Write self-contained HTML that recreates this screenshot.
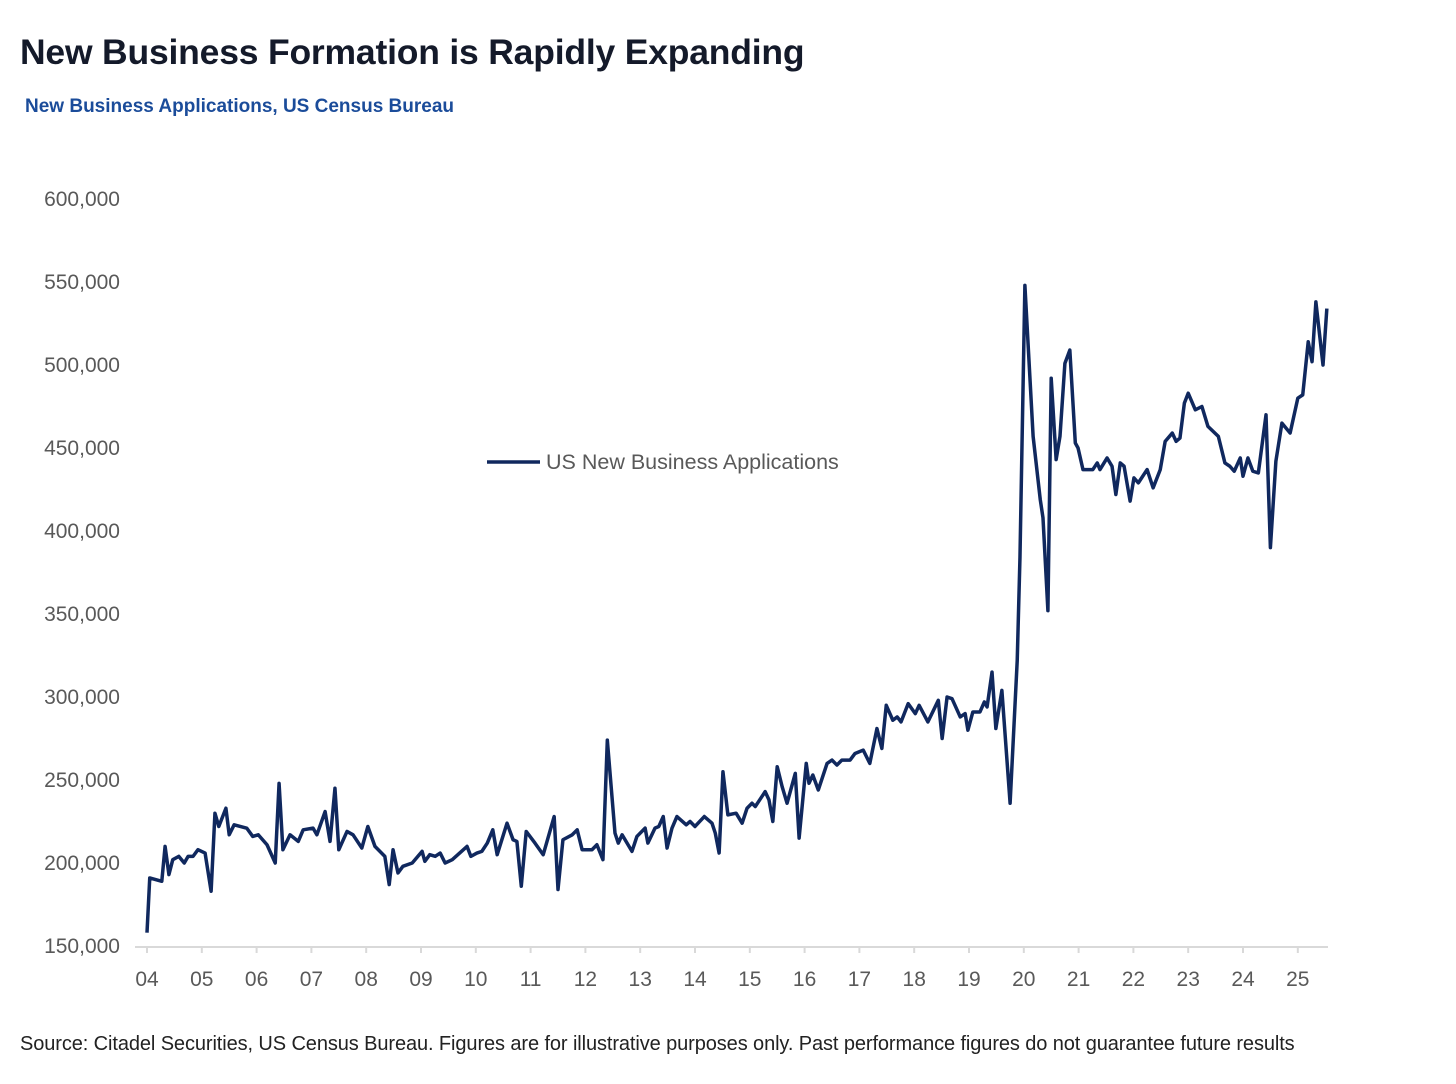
<!DOCTYPE html>
<html><head><meta charset="utf-8"><style>
body{margin:0;background:#fff;width:1456px;height:1084px;overflow:hidden;font-family:"Liberation Sans",sans-serif}
#title{position:absolute;left:20px;top:32px;font-size:35.5px;font-weight:bold;color:#141a2a;letter-spacing:-0.2px}
#sub{position:absolute;left:25px;top:96px;font-size:19px;font-weight:bold;color:#1b4c9a}
#src{position:absolute;left:20px;top:1033px;font-size:20px;color:#222;letter-spacing:-0.1px}
svg{position:absolute;left:0;top:0}
</style></head><body>
<div id="title">New Business Formation is Rapidly Expanding</div>
<div id="sub">New Business Applications, US Census Bureau</div>
<svg id="chart" width="1456" height="1084"></svg>
<div id="src">Source: Citadel Securities, US Census Bureau. Figures are for illustrative purposes only. Past performance figures do not guarantee future results</div>
<script>
const yTicks=[150000,200000,250000,300000,350000,400000,450000,500000,550000,600000];
const xTickLabels=["04","05","06","07","08","09","10","11","12","13","14","15","16","17","18","19","20","21","22","23","24","25"];
const dates=[2004.00,2004.05,2004.27,2004.33,2004.40,2004.47,2004.58,2004.68,2004.75,2004.84,2004.93,2005.06,2005.17,2005.24,2005.31,2005.44,2005.50,2005.59,2005.82,2005.93,2006.03,2006.19,2006.34,2006.41,2006.48,2006.61,2006.76,2006.85,2007.03,2007.10,2007.25,2007.34,2007.43,2007.50,2007.65,2007.76,2007.92,2008.03,2008.16,2008.34,2008.42,2008.49,2008.58,2008.67,2008.84,2009.02,2009.07,2009.16,2009.26,2009.35,2009.44,2009.57,2009.84,2009.91,2010.02,2010.11,2010.21,2010.31,2010.39,2010.57,2010.68,2010.75,2010.83,2010.92,2011.08,2011.23,2011.43,2011.50,2011.59,2011.76,2011.85,2011.94,2012.12,2012.21,2012.32,2012.40,2012.54,2012.60,2012.67,2012.85,2012.94,2013.09,2013.14,2013.27,2013.34,2013.42,2013.49,2013.58,2013.67,2013.84,2013.91,2014.00,2014.17,2014.31,2014.37,2014.44,2014.51,2014.60,2014.75,2014.86,2014.95,2015.04,2015.10,2015.28,2015.35,2015.42,2015.50,2015.59,2015.68,2015.83,2015.90,2016.03,2016.08,2016.15,2016.25,2016.41,2016.50,2016.59,2016.68,2016.83,2016.92,2017.07,2017.19,2017.32,2017.41,2017.49,2017.61,2017.69,2017.76,2017.89,2018.02,2018.09,2018.25,2018.44,2018.51,2018.60,2018.69,2018.84,2018.93,2018.98,2019.07,2019.20,2019.28,2019.33,2019.42,2019.49,2019.60,2019.75,2019.88,2019.93,2020.02,2020.17,2020.30,2020.35,2020.44,2020.50,2020.59,2020.66,2020.75,2020.84,2020.94,2020.99,2021.08,2021.26,2021.34,2021.39,2021.52,2021.61,2021.68,2021.76,2021.83,2021.94,2022.01,2022.09,2022.25,2022.36,2022.49,2022.58,2022.71,2022.78,2022.85,2022.93,2023.00,2023.13,2023.25,2023.36,2023.55,2023.67,2023.76,2023.84,2023.95,2024.00,2024.09,2024.18,2024.28,2024.42,2024.50,2024.60,2024.71,2024.86,2025.00,2025.09,2025.19,2025.26,2025.33,2025.46,2025.53];
const values=[158000,191000,189000,210000,193000,202000,204000,200000,204000,204000,208000,206000,183000,230000,222000,233000,217000,223000,221000,216000,217000,211000,200000,248000,208000,217000,213000,220000,221000,217000,231000,213000,245000,208000,219000,217000,209000,222000,210000,204000,187000,208000,194000,198000,200000,207000,201000,205000,204000,206000,200000,202000,210000,204000,206000,207000,212000,220000,205000,224000,214000,213000,186000,219000,212000,205000,228000,184000,214000,217000,220000,208000,208000,211000,202000,274000,218000,212000,217000,207000,216000,221000,212000,221000,222000,228000,209000,221000,228000,223000,225000,222000,228000,224000,218000,206000,255000,229000,230000,224000,233000,236000,234000,243000,238000,225000,258000,246000,236000,254000,215000,260000,248000,253000,244000,260000,262000,259000,262000,262000,266000,268000,260000,281000,269000,295000,286000,288000,285000,296000,290000,295000,285000,298000,275000,300000,299000,288000,290000,280000,291000,291000,297000,294000,315000,281000,304000,236000,322000,384000,548000,457000,419000,408000,352000,492000,443000,457000,501000,509000,453000,450000,437000,437000,441000,437000,444000,439000,422000,441000,439000,418000,432000,429000,437000,426000,437000,454000,459000,454000,456000,477000,483000,473000,475000,463000,457000,441000,439000,436000,444000,433000,444000,436000,435000,470000,390000,442000,465000,459000,480000,482000,514000,502000,538000,500000,534000];
const NS='http://www.w3.org/2000/svg';
const svg=document.getElementById('chart');
const y=v=>946-(v-150000)/450000*747;
const x=d=>147+(d-2004)*54.8;
function mk(t,a){const e=document.createElementNS(NS,t);for(const k in a)e.setAttribute(k,a[k]);svg.appendChild(e);return e;}
yTicks.forEach(v=>{const t=mk('text',{x:120,y:y(v)+7,'text-anchor':'end','font-size':'21','fill':'#595959','font-family':'Liberation Sans, sans-serif'});t.textContent=v.toLocaleString('en-US');

});
const ax=mk('line',{x1:135,x2:1328,y1:947,y2:947,stroke:'#d9d9d9','stroke-width':2});


xTickLabels.forEach((l,i)=>{const xx=x(2004+i);
const tk=mk('line',{x1:xx,x2:xx,y1:947,y2:953,stroke:'#d9d9d9','stroke-width':2});


const t=mk('text',{x:xx,y:986,'text-anchor':'middle','font-size':'21','fill':'#595959','font-family':'Liberation Sans, sans-serif'});t.textContent=l;

});
const p=mk('polyline',{points:dates.map((d,i)=>x(d)+','+y(values[i])).join(' '),fill:'none',stroke:'#10285e','stroke-width':3.5,'stroke-linejoin':'round'});


const ll=mk('line',{x1:487,x2:540,y1:462,y2:462,stroke:'#10285e','stroke-width':3.5});


const lt=mk('text',{x:546,y:469,'font-size':'21.5','fill':'#595959','font-family':'Liberation Sans, sans-serif'});lt.textContent='US New Business Applications';


</script>
</body></html>
